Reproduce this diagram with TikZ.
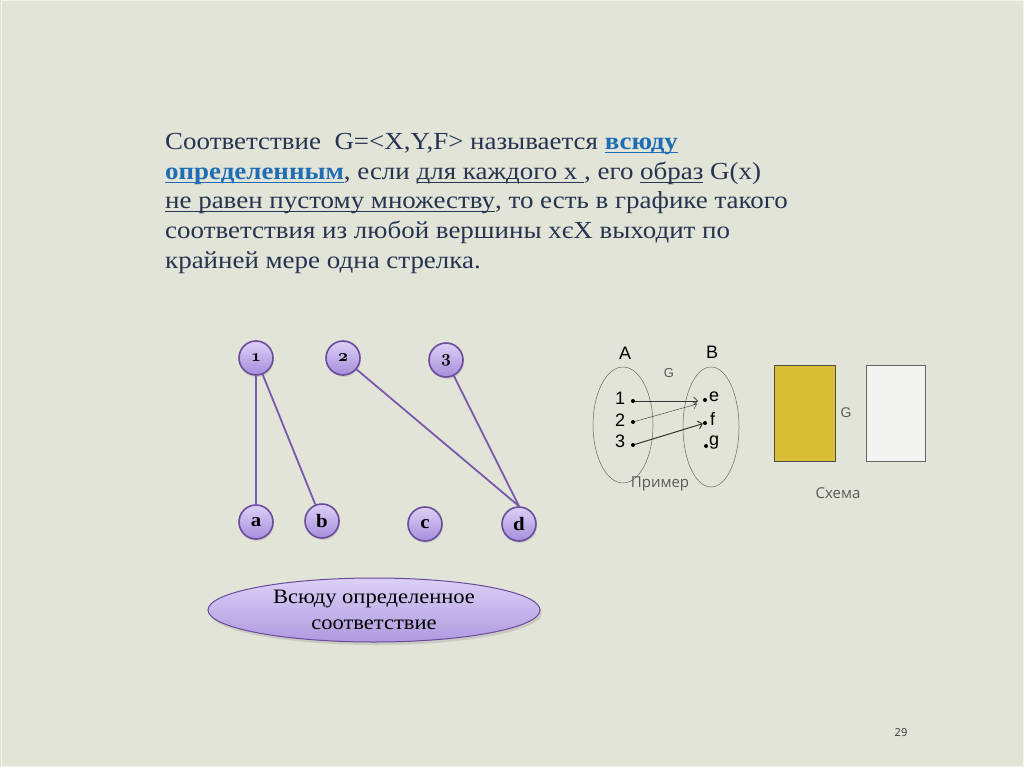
\documentclass[tikz,border=0pt]{standalone}
\usepackage{fontspec}
\setmainfont{Liberation Serif}[FakeStretch=1.1]
\newfontfamily\sansf{Liberation Sans}
\newfontfamily\opens{Open Sans}
\usetikzlibrary{shapes.geometric,arrows.meta,shadows}
\definecolor{bg}{HTML}{E2E4D7}
\definecolor{txt}{HTML}{263451}
\definecolor{hlc}{HTML}{1F6DB4}
\definecolor{vedge}{HTML}{7A58AE}
\definecolor{vfillT}{HTML}{DCD0F6}
\definecolor{vfillB}{HTML}{A68EDC}
\definecolor{vdraw}{HTML}{6A4B9C}
\definecolor{gryellow}{HTML}{D9BF35}
\definecolor{grtxt}{HTML}{5A5A5A}
\newsavebox{\ulbx}
\newcommand{\ulw}[1]{\sbox{\ulbx}{#1}\rlap{\rule[-3pt]{\wd\ulbx}{1pt}}\usebox{\ulbx}}
\newcommand{\hlw}[1]{{\color{hlc}\bfseries\ulw{#1}}}
\newcommand{\osn}[1]{{\usefont{OML}{cmm}{b}{it}#1}}
\tikzset{
  body/.style={anchor=base west, inner sep=0pt, text=txt, font=\fontsize{24.5}{30}\selectfont},
  vert/.style={circle, draw=vdraw, line width=1.6pt, top color=vfillT, bottom color=vfillB,
     minimum size=34pt, inner sep=0pt, font=\fontsize{19}{19}\selectfont\bfseries, text=black,
     drop shadow={shadow xshift=1pt, shadow yshift=-2pt, opacity=0.2}},
  gedge/.style={draw=vedge, line width=1.8pt},
  setell/.style={draw=gray!80!black, line width=0.5pt},
  dotp/.style={circle, fill=black, inner sep=0pt, minimum size=4pt},
  lbl/.style={font=\sansf\fontsize{18}{18}\selectfont, text=black, inner sep=0pt},
  marr/.style={draw=black!80, line width=0.6pt, -{Straight Barb[length=4pt,width=8pt]}},
  captxt/.style={font=\opens\fontsize{15}{15}\selectfont, text=grtxt, inner sep=0pt},
}
\begin{document}
\begin{tikzpicture}[x=1pt,y=-1pt]
\useasboundingbox (0,0) rectangle (1024,767);
\fill[bg] (0,0) rectangle (1024,767);
\draw[white!60!bg, line width=1pt] (1,1) rectangle (1023,766);

% body text
\node[body] (l1) at (165,150) {Соответствие\ \ G=<X,Y,F> называется \hlw{всюду}};
\node[body] (l2) at (165,180) {\hlw{определенным}, если \ulw{для каждого x }, его \ulw{образ} G(x)};
\node[body] (l3) at (165,209) {\ulw{не равен пустому множеству}, то есть в графике такого};
\node[body] (l4) at (165,239) {соответствия из любой вершины xєX выходит по};
\node[body] (l5) at (165,268) {крайней мере одна стрелка.};

% graph
\node[vert] (n1) at (256,358) {\osn{1}};
\node[vert] (n2) at (343,358) {\osn{2}};
\node[vert] (n3) at (446,360) {\osn{3}};
\node[vert] (na) at (256,522) {a};
\node[vert] (nb) at (322,521) {b};
\node[vert] (nc) at (425,524) {c};
\node[vert] (nd) at (519,524) {d};
\draw[gedge] (n1) -- (na);
\draw[gedge] (n1) -- (nb);
\draw[gedge] (n2) -- (nd.north);
\draw[gedge] (n3) -- (nd.north);

\node[ellipse, draw=vdraw, line width=1pt, top color=vfillT, bottom color=vfillB!90!white,
  minimum width=332pt, minimum height=64pt, align=center, inner sep=0pt,
  font=\fontsize{20.5}{26}\selectfont, text=black,
  drop shadow={shadow xshift=2pt, shadow yshift=-3pt, opacity=0.25}] (ov) at (374,610)
  {Всюду определенное\\соответствие};

% example
\draw[setell] (623,425) ellipse [x radius=30, y radius=58];
\draw[setell] (711,427) ellipse [x radius=28, y radius=60];
\node[lbl] (tA) at (625,353) {A};
\node[lbl] (tB) at (712,352) {B};
\node[font=\sansf\fontsize{13}{13}\selectfont, text=grtxt, inner sep=0pt] (tG) at (669,373) {G};
\node[lbl] (t1) at (620,398) {1};
\node[lbl] (t2) at (620,420) {2};
\node[lbl] (t3) at (620,441) {3};
\node[dotp] (d1) at (633,401) {};
\node[dotp] (d2) at (633,422) {};
\node[dotp] (d3) at (633,445) {};
\node[dotp] (de) at (705,400) {};
\node[dotp] (df) at (705,423) {};
\node[dotp] (dg) at (706,446) {};
\node[lbl, anchor=west] (te) at (709,397) {e};
\node[lbl, anchor=west] (tf) at (710,419) {f};
\node[lbl, anchor=west] (tg) at (709,443) {g};
\draw[marr] (d1) -- (698,401);
\draw[marr, line width=0.4pt] (d2) -- (697,404);
\draw[marr, line width=1pt] (d3) -- (df);
\node[captxt] (tp) at (660,484) {Пример};

% scheme
\draw[fill=gryellow, draw=black!70, line width=0.8pt] (774,365) rectangle (835,461);
\draw[fill=white!60!bg, draw=black!60, line width=0.8pt] (866,365) rectangle (925,461);
\node[font=\sansf\fontsize{14}{14}\selectfont, text=grtxt, inner sep=0pt] (sG) at (846,413) {G};
\node[captxt] (ts) at (838,493) {Схема};

\node[font=\opens\fontsize{11}{11}\selectfont, text=black!80, inner sep=0pt] (pg) at (901,733) {29};
\end{tikzpicture}
\end{document}
